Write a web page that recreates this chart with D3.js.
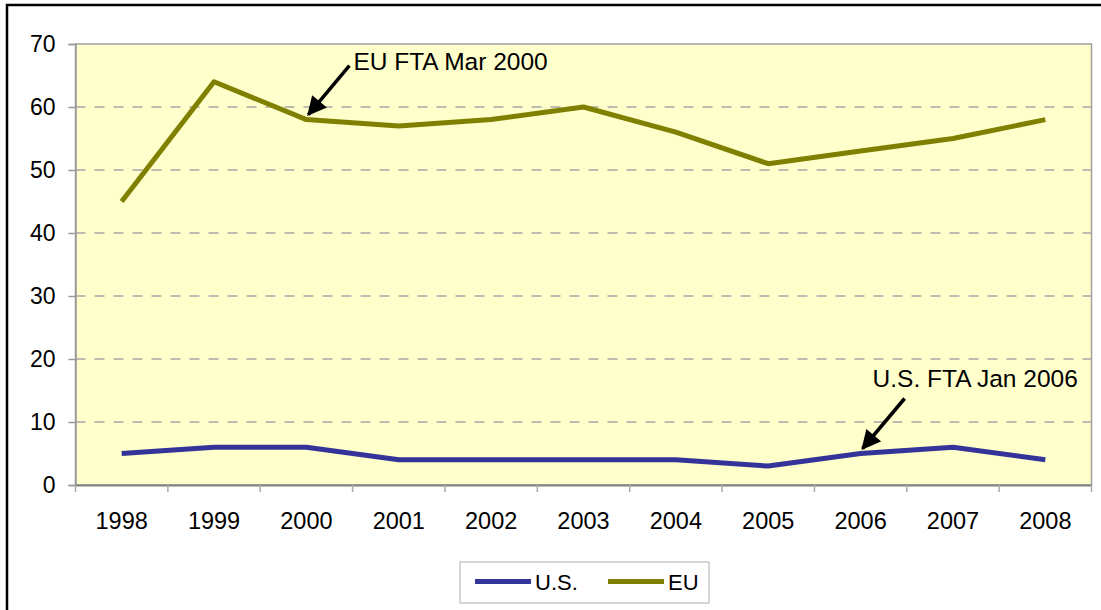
<!DOCTYPE html>
<html>
<head>
<meta charset="utf-8">
<title>U.S. and EU FTA chart</title>
<script src="https://d3js.org/d3.v7.min.js"></script>
<style>
  body { margin: 0; background: #fff; }
  text { font-family: "Liberation Sans", Arial, sans-serif; fill: #000; }
</style>
</head>
<body>
<div id="chart"></div>
<script>
// data
const years = ["1998", "1999", "2000", "2001", "2002", "2003", "2004", "2005", "2006", "2007", "2008"];
const usValues = [5, 6, 6, 4, 4, 4, 4, 3, 5, 6, 4];
const euValues = [45, 64, 58, 57, 58, 60, 56, 51, 53, 55, 58];
const yTicks = [0, 10, 20, 30, 40, 50, 60, 70];
const seriesNames = ["U.S.", "EU"];

const W = 1101, H = 610;
const plotL = 75.5, plotR = 1091.5, plotT = 44, plotB = 485;

const svg = d3.select("#chart").append("svg")
  .attr("width", W).attr("height", H);

// outer frame (left + top edges only visible)
svg.append("path")
  .attr("d", "M7,610 V5 H1101")
  .attr("fill", "none").attr("stroke", "#000").attr("stroke-width", 2.5);

const x = d3.scaleBand().domain(years).range([plotL, plotR]);
const y = d3.scaleLinear().domain([0, 70]).range([plotB, plotT]);

// plot area
svg.append("rect")
  .attr("x", plotL).attr("y", plotT)
  .attr("width", plotR - plotL).attr("height", plotB - plotT)
  .attr("fill", "#ffffcc").attr("stroke", "#a0a0a0").attr("stroke-width", 1.5);

// gridlines
svg.append("g").selectAll("line")
  .data(yTicks.filter(d => d > 0 && d < 70))
  .join("line")
  .attr("x1", plotL).attr("x2", plotR)
  .attr("y1", d => y(d)).attr("y2", d => y(d))
  .attr("stroke", "#a6a6a6").attr("stroke-width", 1.5)
  .attr("stroke-dasharray", "10,9");

// y axis
const yAxis = svg.append("g")
  .attr("transform", `translate(${plotL},0)`)
  .call(d3.axisLeft(y).tickValues(yTicks).tickSize(7).tickPadding(13));
yAxis.select(".domain").attr("stroke", "#999").attr("stroke-width", 1.5);
yAxis.selectAll(".tick line").attr("stroke", "#999").attr("stroke-width", 1.5);
yAxis.selectAll("text").attr("font-size", 23).attr("font-family", "Liberation Sans, Arial, sans-serif").attr("fill", "#000");

// x axis: ticks at band boundaries, labels at centres
const xAxis = svg.append("g")
  .attr("transform", `translate(0,${plotB})`)
  .call(d3.axisBottom(x).tickSize(0).tickPadding(27));
xAxis.select(".domain").attr("stroke", "#808080").attr("stroke-width", 2);
xAxis.selectAll("text").attr("font-size", 23.5).attr("font-family", "Liberation Sans, Arial, sans-serif").attr("fill", "#000");
svg.append("g").selectAll("line")
  .data(years.concat(["end"]))
  .join("line")
  .attr("x1", (d, i) => plotL + i * x.step()).attr("x2", (d, i) => plotL + i * x.step())
  .attr("y1", plotB).attr("y2", plotB + 7)
  .attr("stroke", "#aaa").attr("stroke-width", 1.5);

const cx = d => x(d) + x.bandwidth() / 2;
const line = d3.line().x(d => cx(d.year)).y(d => y(d.v));

const usData = years.map((yr, i) => ({ year: yr, v: usValues[i] }));
const euData = years.map((yr, i) => ({ year: yr, v: euValues[i] }));

svg.append("path").datum(usData)
  .attr("d", line).attr("fill", "none")
  .attr("stroke", "#333399").attr("stroke-width", 5).attr("stroke-linejoin", "round");
svg.append("path").datum(euData)
  .attr("d", line).attr("fill", "none")
  .attr("stroke", "#808000").attr("stroke-width", 5).attr("stroke-linejoin", "round");

// annotations
const defs = svg.append("defs");
defs.append("marker")
  .attr("id", "arrow").attr("viewBox", "0 0 10 10")
  .attr("refX", 9).attr("refY", 5)
  .attr("markerWidth", 6).attr("markerHeight", 5.5)
  .attr("markerUnits", "strokeWidth")
  .attr("orient", "auto")
  .append("path").attr("d", "M0,0 L10,5 L0,10 z").attr("fill", "#000");

function annotate(label, year, value, dx, dy, tx, ty) {
  const px = cx(year), py = y(value) - 3;
  svg.append("line")
    .attr("x1", px + dx).attr("y1", py + dy)
    .attr("x2", px + 2).attr("y2", py - 2)
    .attr("stroke", "#000").attr("stroke-width", 3.5)
    .attr("marker-end", "url(#arrow)");
  svg.append("text")
    .attr("x", px + tx).attr("y", py + ty)
    .attr("font-size", 24.5)
    .text(label);
}
annotate("EU FTA Mar 2000", "2000", 58, 43, -51, 47, -47);
annotate("U.S. FTA Jan 2006", "2006", 5, 44, -52, 12, -63.5);

// legend
const lg = svg.append("g").attr("transform", "translate(460,562)");
lg.append("rect").attr("width", 249).attr("height", 41)
  .attr("fill", "#fff").attr("stroke", "#b0b0b0").attr("stroke-width", 1);
const legendColors = ["#333399", "#808000"];
const legendX = [15, 148];
seriesNames.forEach((name, i) => {
  lg.append("line")
    .attr("x1", legendX[i]).attr("x2", legendX[i] + 56)
    .attr("y1", 19.5).attr("y2", 19.5)
    .attr("stroke", legendColors[i]).attr("stroke-width", 5);
  lg.append("text")
    .attr("x", legendX[i] + 60).attr("y", 28)
    .attr("font-size", 22)
    .text(name);
});
</script>
</body>
</html>
